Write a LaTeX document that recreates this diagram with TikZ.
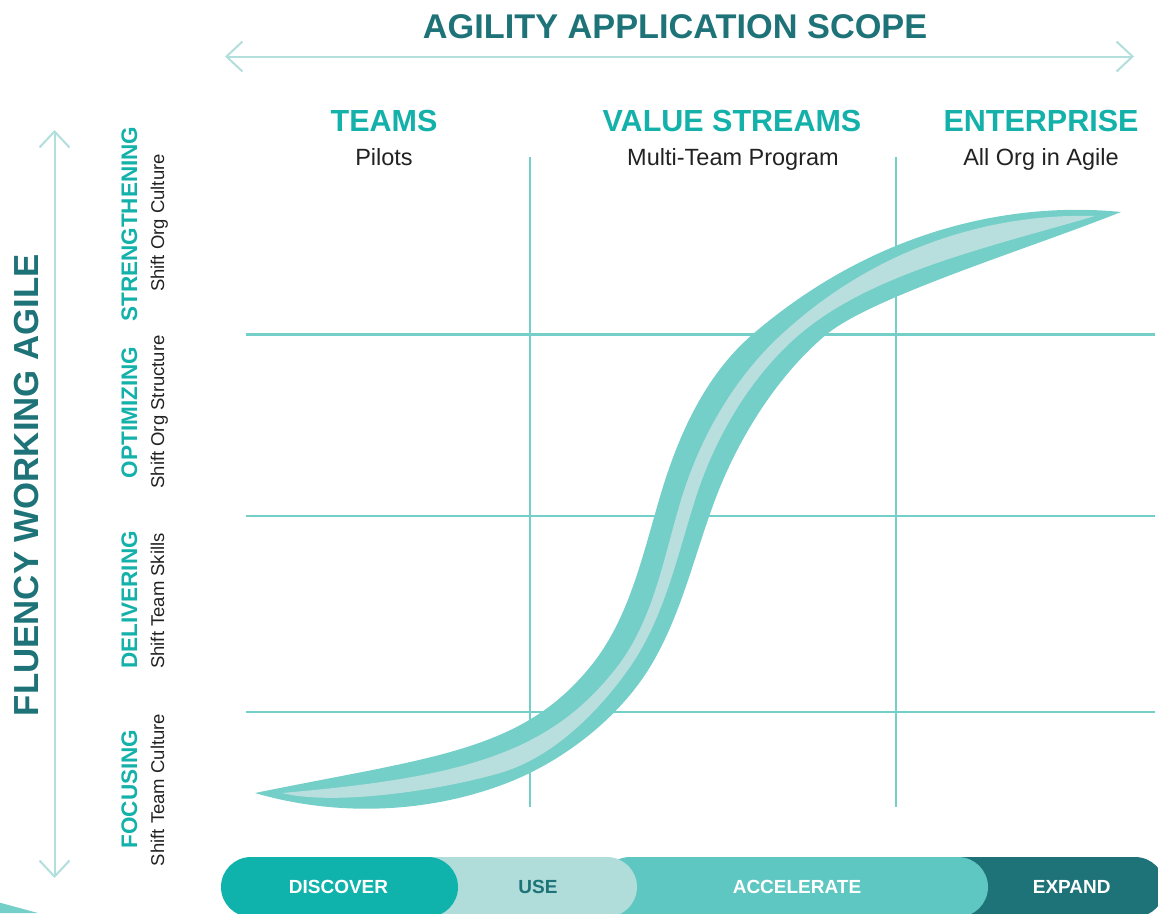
\documentclass[tikz,border=0pt]{standalone}
\usepackage{fontspec}
\setmainfont{Liberation Sans}
\usetikzlibrary{arrows.meta}
\definecolor{darkteal}{RGB}{30,115,120}
\definecolor{headteal}{RGB}{19,177,169}
\definecolor{gridteal}{RGB}{116,207,201}
\definecolor{ribbon}{RGB}{116,207,201}
\definecolor{ribbonin}{RGB}{184,223,221}
\definecolor{arrowteal}{RGB}{178,222,220}
\definecolor{discovercol}{RGB}{15,179,171}
\definecolor{usecol}{RGB}{176,220,218}
\definecolor{accelcol}{RGB}{94,199,193}
\definecolor{expandcol}{RGB}{30,115,120}
\definecolor{subtext}{RGB}{34,34,34}
\newcommand\fsz[1]{\fontsize{#1}{#1}\selectfont}
\tikzset{
  titletext/.style={font={\fsz{34.3}\bfseries}, text=darkteal, inner sep=0, anchor=base},
  colhead/.style={font={\fsz{30.5}\bfseries}, text=headteal, inner sep=0, anchor=base},
  colsub/.style={font={\fsz{23.5}}, text=subtext, inner sep=0, anchor=base},
  stagehead/.style={font={\fsz{22.5}\bfseries}, text=headteal, rotate=90, inner sep=0, anchor=base},
  stagesub/.style={font={\fsz{18.5}}, text=subtext, rotate=90, inner sep=0, anchor=base},
  gridline/.style={draw=gridteal, line width=2.2},
  scalearrow/.style={draw=arrowteal, line width=2,
    {Straight Barb[length=16pt,width=30pt]}-{Straight Barb[length=16pt,width=30pt]}},
  pilltext/.style={font={\fsz{19}\bfseries}, inner sep=0, anchor=base},
  barpill/.style={rounded corners=30},
}
\begin{document}
\begin{tikzpicture}[x=1pt,y=-1pt]
\useasboundingbox (0,0) rectangle (1158,913);
\clip (0,0) rectangle (1158,913);

% title and top scale arrow
\node[titletext] (title) at (675,38.3) {AGILITY APPLICATION SCOPE};
\coordinate (hl) at (225,56.5);
\coordinate (hr) at (1134,56.5);
\draw[scalearrow] (hl) -- (hr);

% left scale arrow and title
\coordinate (vt) at (54.5,130);
\coordinate (vb) at (54.5,878);
\draw[scalearrow] (vb) -- (vt);
\node[titletext, font={\fsz{34.8}\bfseries}, rotate=90] (fluency) at (38,485) {FLUENCY WORKING AGILE};

% column headings
\node[colhead] (teams) at (384,131) {TEAMS};
\node[colhead] (vs) at (732,131) {VALUE STREAMS};
\node[colhead] (ent) at (1041,131) {ENTERPRISE};
\node[colsub] (pilots) at (384,165) {Pilots};
\node[colsub] (mtp) at (733,165) {Multi-Team Program};
\node[colsub] (allorg) at (1041,165) {All Org in Agile};

% stage labels
\node[stagehead] (s4) at (137,224) {STRENGTHENING};
\node[stagehead] (s3) at (137,412.5) {OPTIMIZING};
\node[stagehead] (s2) at (137,600) {DELIVERING};
\node[stagehead] (s1) at (137,789) {FOCUSING};
\node[stagesub] (s4s) at (164,223) {Shift Org Culture};
\node[stagesub] (s3s) at (164,412) {Shift Org Structure};
\node[stagesub] (s2s) at (164,601) {Shift Team Skills};
\node[stagesub] (s1s) at (164,790) {Shift Team Culture};

% grid
\draw[gridline] (246,334.5) -- (1155,334.5);
\draw[gridline] (246,516) -- (1155,516);
\draw[gridline] (246,712) -- (1155,712);
\draw[gridline] (530,157) -- (530,807);
\draw[gridline] (896,157) -- (896,807);

% S-curve ribbon (outer)
\fill[ribbon] (255,793) .. controls (431,757) and (521,752) .. (590,667)
  .. controls (628,621) and (642,558) .. (659,500)
  .. controls (677,438) and (704,376) .. (753,334)
  .. controls (882,223.5) and (1022,202) .. (1121,212)
  .. controls (1028,249) and (873,296.6) .. (827,334)
  .. controls (777,375.6) and (737.8,439) .. (715,500)
  .. controls (694,556) and (681,616) .. (650,667)
  .. controls (619,718) and (563,761.4) .. (507,783)
  .. controls (428,813.6) and (336.6,816.8) .. (255,793) -- cycle;
% S-curve ribbon (inner light band)
\fill[ribbonin] (282,793) .. controls (461,777.5) and (550,754) .. (617,667)
  .. controls (653.6,619.6) and (663.6,557.6) .. (681,500)
  .. controls (699.9,437.6) and (734,378) .. (782,334)
  .. controls (885.6,238.8) and (1005,213.3) .. (1095,216)
  .. controls (989,247) and (872,273) .. (800,334)
  .. controls (750.6,376) and (714.5,438) .. (695,500)
  .. controls (677,557) and (664,618) .. (630,667)
  .. controls (598.6,712) and (552.8,757.6) .. (500,773)
  .. controls (442.4,789.8) and (335.4,806.2) .. (282,793) -- cycle;

% bottom-left sliver
\fill[ribbon] (0,902.7) -- (38,913) -- (0,913) -- cycle;

% bottom bar
\fill[expandcol, barpill] (900,857) rectangle (1165,917);
\fill[accelcol, barpill] (600,857) rectangle (988,917);
\fill[usecol, barpill] (400,857) rectangle (637,917);
\fill[discovercol, barpill] (221,857) rectangle (458,917);
\node[pilltext, text=white] (discover) at (338.5,893.3) {DISCOVER};
\node[pilltext, text=darkteal] (use) at (538,893.3) {USE};
\node[pilltext, text=white] (accel) at (797,893.3) {ACCELERATE};
\node[pilltext, text=white] (expand) at (1071.7,893.3) {EXPAND};
\end{tikzpicture}
\end{document}
